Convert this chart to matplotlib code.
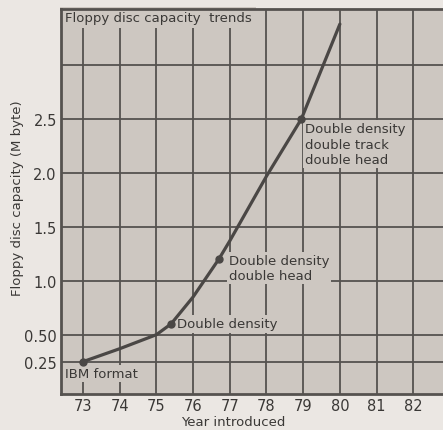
import matplotlib
matplotlib.use("Agg")
import matplotlib.pyplot as plt

years = [73, 74, 75, 75.4, 76, 76.7, 77, 78, 78.95, 80]
capacity = [0.25, 0.37, 0.5, 0.6, 0.85, 1.2, 1.37, 1.97, 2.5, 3.38]

marker_years = [73, 75.4, 76.7, 78.95]
marker_caps = [0.25, 0.6, 1.2, 2.5]
marker_labels = ["IBM format", "Double density", "Double density\ndouble head",
                 "Double density\ndouble track\ndouble head"]

xticks = [73, 74, 75, 76, 77, 78, 79, 80, 81, 82]
yticks = [0.25, 0.5, 1.0, 1.5, 2.0, 2.5, 3.0]
ytick_labels = ["0.25", "0.50", "1.0", "1.5", "2.0", "2.5", ""]

face = "#cdc7c1"
bg = "#ebe7e3"
grid = "#55524f"
ink = "#3a3836"

plt.rcParams['font.family'] = ['DejaVu Sans']
fig = plt.figure(figsize=(4.43, 4.31), dpi=100, facecolor=bg)
ax = fig.add_axes([61/443, 1-395/431, 1-61/443, (395-10)/431])
ax.set_facecolor(face)
ax.set_xlim(72.4, 82.81)
ax.set_ylim(-0.05, 3.52)
ax.set_xticks(xticks)
ax.set_xticklabels([str(x) for x in xticks], fontsize=10.5, color=ink)
ax.set_yticks(yticks)
ax.set_yticklabels(ytick_labels, fontsize=10.5, color=ink)
ax.tick_params(length=0, pad=3)
ax.grid(True, color=grid, linewidth=1.3, zorder=1)
ax.set_axisbelow(True)
for s in ["left", "bottom", "top"]:
    ax.spines[s].set_color(grid)
    ax.spines[s].set_linewidth(2)
ax.spines["right"].set_visible(False)

ax.plot(years, capacity, color="#4a4745", linewidth=2.3, zorder=3, solid_capstyle="round")
ax.plot(marker_years, marker_caps, "o", color="#4a4745", markersize=5, zorder=4)

box = dict(facecolor=face, edgecolor="none", pad=1.5)
ax.text(72.5, 0.2, marker_labels[0], fontsize=9.5, color=ink, va="top", ha="left", bbox=box, zorder=2)
ax.text(75.55, 0.6, marker_labels[1], fontsize=9.5, color=ink, va="center", ha="left", bbox=box, zorder=2)
ax.text(76.97, 1.25, marker_labels[2], fontsize=9.5, color=ink, va="top", ha="left", bbox=box, zorder=2,
        linespacing=1.25)
ax.text(79.05, 2.47, marker_labels[3], fontsize=9.5, color=ink, va="top", ha="left", bbox=box, zorder=2,
        linespacing=1.25)

ax.text(72.5, 3.5, "Floppy disc capacity  trends", fontsize=9.5, color=ink, va="top", ha="left",
        bbox=dict(facecolor=face, edgecolor="none", pad=3), zorder=2)

fig.text(233/443, 1-423/431, "Year introduced", fontsize=9.5, color=ink, ha="center", va="center")
fig.text(18/443, 1-198/431, "Floppy disc capacity (M byte)", fontsize=9.5, color=ink,
         ha="center", va="center", rotation=90)

fig.savefig("out.png", dpi=100, facecolor=bg)
